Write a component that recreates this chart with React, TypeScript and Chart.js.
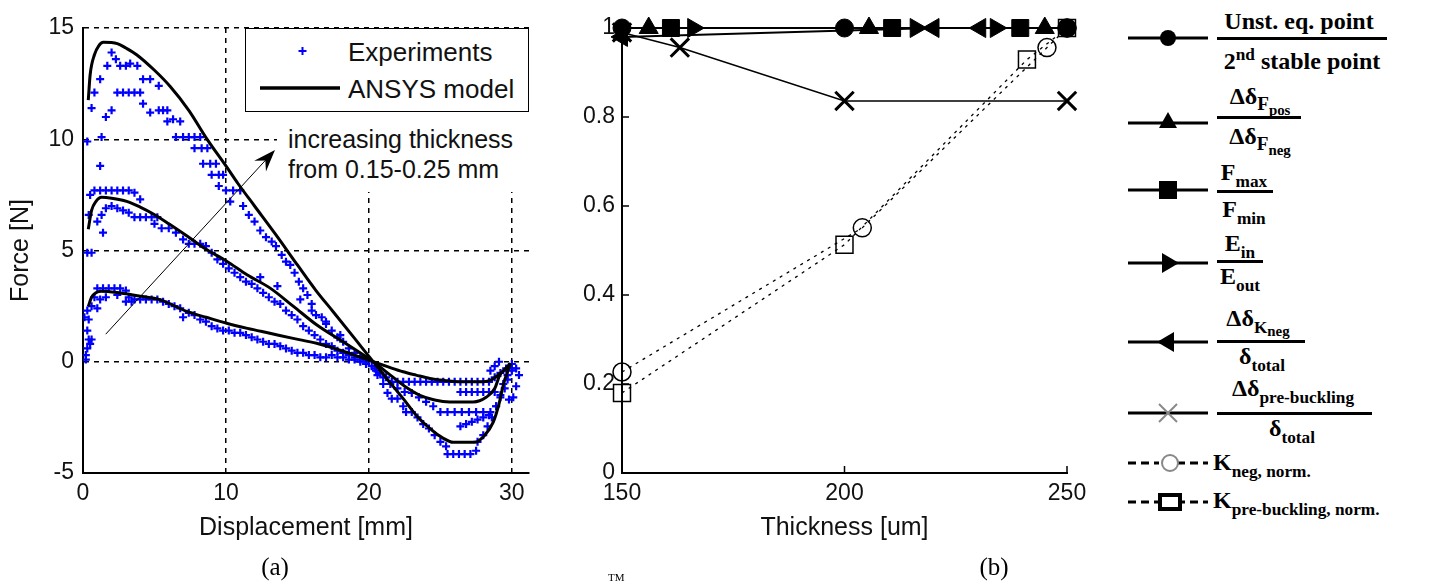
import React, { useEffect, useRef } from 'react';
import { Chart, registerables } from 'chart.js';
Chart.register(...registerables);

// ---------------- (a) Force vs displacement ----------------
const dispTicks = [0, 10, 20, 30];
const forceTicks = [-5, 0, 5, 10, 15];

const ansysThickX = [0.37, 0.5, 0.8, 1.1, 1.42, 2.0, 2.4, 3.0, 3.75, 5.0, 6.1, 7.4, 8.65, 10.0, 10.85, 12.0, 13.5, 15.0, 16.3, 17.5, 19.0, 20.3, 21.3, 22.4, 23.3, 24.3, 25.1, 25.9, 27.4, 28.1, 28.7, 29.1, 29.4, 29.9];
const ansysThickY = [11.76, 12.9, 13.8, 14.2, 14.36, 14.35, 14.3, 14.1, 13.8, 13.1, 12.37, 11.3, 10.03, 8.8, 8.0, 7.0, 5.7, 4.35, 3.2, 2.25, 1.05, 0, -0.8, -1.66, -2.4, -3.02, -3.4, -3.62, -3.62, -3.3, -2.71, -1.9, -1.05, -0.08];

const ansysMidX = [0.37, 0.6, 0.9, 1.3, 2.0, 3.05, 4.0, 4.92, 6.0, 7.25, 8.5, 10.05, 11.5, 13.07, 14.7, 16.34, 18.3, 20.3, 21.5, 22.5, 23.57, 24.6, 25.66, 27.3, 28.2, 28.8, 29.16, 29.5, 29.9];
const ansysMidY = [5.96, 6.8, 7.2, 7.39, 7.35, 7.21, 6.95, 6.64, 6.2, 5.66, 5.1, 4.52, 3.9, 3.32, 2.5, 1.66, 0.85, 0, -0.6, -1.1, -1.51, -1.72, -1.81, -1.81, -1.6, -1.2, -0.6, -0.35, -0.08];

const ansysThinX = [0.37, 0.6, 0.9, 1.3, 2.59, 4.0, 5.38, 7.25, 8.6, 10.05, 11.5, 13.07, 14.7, 16.34, 18.3, 20.3, 21.3, 22.4, 23.3, 24.27, 25.3, 26.36, 28.0, 28.6, 29.16, 29.6, 29.9];
const ansysThinY = [2.49, 2.9, 3.1, 3.17, 3.09, 2.95, 2.79, 2.26, 2.0, 1.73, 1.5, 1.28, 1.05, 0.83, 0.45, 0, -0.22, -0.45, -0.6, -0.75, -0.84, -0.9, -0.9, -0.8, -0.53, -0.3, -0.08];

const expThick = [
  [0.3, 9.9], [0.6, 11.4], [0.8, 12.1], [1.2, 12.7], [1.2, 8.8], [1.3, 10.1], [1.6, 11.0], [1.7, 13.3], [2.0, 13.9], [2.0, 11.3],
  [2.3, 13.6], [2.6, 13.3], [3.0, 13.3], [3.3, 13.4], [3.8, 13.3], [2.4, 12.1], [2.8, 12.1], [3.2, 12.1], [3.6, 12.1], [4.0, 12.1],
  [4.2, 12.7], [4.7, 12.7], [4.2, 11.6], [4.7, 11.2], [5.3, 12.4], [5.3, 11.3], [5.6, 11.3], [5.9, 11.3], [5.9, 10.8], [6.3, 10.9],
  [6.8, 10.8], [6.5, 10.1], [7.0, 10.1], [7.4, 10.1], [7.8, 10.1], [8.2, 10.1], [7.8, 9.6], [8.3, 9.6], [8.7, 9.6], [8.4, 8.9],
  [8.9, 8.9], [9.3, 8.9], [9.0, 8.4], [9.5, 8.4], [9.8, 8.4], [9.5, 7.9], [10.0, 7.7], [10.5, 7.7], [11.0, 7.7], [10.3, 7.2],
  [11.2, 7.0], [11.6, 6.6], [12.0, 6.3], [12.4, 5.9], [12.8, 5.6], [13.2, 5.4], [13.5, 5.2], [13.9, 4.8], [14.2, 4.5], [14.5, 4.35],
  [14.8, 4.0], [15.1, 3.6], [15.4, 3.3], [15.7, 3.0], [16.0, 2.6], [16.3, 2.1], [16.7, 2.0], [17.0, 1.7], [17.4, 1.4], [17.8, 1.1],
  [18.2, 0.9], [18.6, 0.6], [19.0, 0.4], [19.4, 0.25], [19.8, 0.1], [20.2, -0.2], [20.6, -0.6], [21.0, -1.0], [21.3, -1.4], [21.6, -1.66],
  [22.0, -1.66], [22.4, -2.0], [22.6, -2.26], [23.0, -2.26], [23.4, -2.5], [23.8, -2.8], [24.2, -3.0], [24.6, -3.3], [25.0, -3.6], [25.4, -3.8],
  [25.5, -4.15], [25.9, -4.15], [26.3, -4.15], [26.7, -4.15], [27.1, -4.15], [27.5, -4.0], [27.6, -3.6], [28.0, -3.3], [28.3, -2.9], [28.6, -2.5],
  [28.9, -2.0], [29.2, -1.5], [29.4, -1.0], [29.7, -0.6], [30.0, -0.3],
];

const expMid = [
  [0.3, 4.9], [0.6, 4.9], [0.4, 6.6], [0.5, 7.5], [0.8, 7.7], [1.2, 7.7], [1.6, 7.7], [2.0, 7.7], [2.4, 7.7], [2.8, 7.7],
  [3.2, 7.7], [3.6, 7.6], [4.0, 7.3], [1.0, 6.3], [1.3, 6.6], [1.6, 6.9], [2.0, 7.0], [2.4, 6.9], [1.4, 5.8], [2.8, 6.8],
  [3.2, 6.7], [3.6, 6.5], [4.0, 6.5], [4.4, 6.5], [4.8, 6.5], [5.2, 6.5], [5.0, 6.2], [5.5, 6.0], [6.0, 6.0], [6.5, 5.8],
  [7.0, 5.5], [7.4, 5.3], [7.8, 5.3], [8.2, 5.3], [8.6, 5.2], [9.0, 4.9], [9.4, 4.6], [9.8, 4.4], [10.2, 4.2], [10.6, 4.0],
  [11.0, 3.8], [11.4, 3.6], [11.8, 3.5], [12.2, 3.3], [12.6, 3.1], [12.4, 3.8], [13.0, 2.9], [13.4, 2.7], [13.8, 2.6], [13.6, 3.4],
  [14.2, 2.3], [14.6, 2.1], [15.0, 1.9], [15.2, 2.8], [15.4, 1.6], [15.8, 1.4], [16.0, 2.3], [16.2, 1.2], [16.6, 1.0], [17.0, 0.8],
  [17.0, 1.8], [17.4, 0.7], [17.8, 0.5], [18.0, 1.2], [18.2, 0.4], [18.6, 0.3], [19.0, 0.2], [19.4, 0.1], [19.8, 0.0], [20.5, -0.4],
  [21.0, -0.7], [21.5, -1.0], [22.0, -1.2], [22.5, -1.36], [23.0, -1.4], [23.5, -1.6], [24.0, -1.8], [24.5, -2.0], [25.0, -2.26], [25.5, -2.26],
  [26.0, -2.26], [26.5, -2.26], [27.0, -2.26], [27.5, -2.26], [28.0, -2.26], [28.5, -2.26], [26.4, -2.9], [26.8, -2.8], [27.2, -2.7], [27.6, -2.6],
  [28.0, -2.5], [28.4, -2.4], [28.9, -2.0], [29.2, -1.6], [29.5, -1.2], [29.7, -0.8], [30.0, -0.4], [26.4, -1.36], [26.8, -1.36], [27.2, -1.36],
  [27.6, -1.36], [28.0, -1.36], [28.4, -1.36], [28.8, -1.36],
];

const expThin = [
  [0.2, 0.3], [0.3, 0.6], [0.4, 1.0], [0.3, 1.4], [0.5, 0.8], [0.2, 0.1], [0.6, 1.0], [0.1, 2.0], [0.3, 2.3], [0.6, 2.5],
  [0.4, 1.9], [1.0, 2.4], [0.8, 2.9], [1.0, 3.3], [1.4, 3.3], [1.8, 3.3], [2.2, 3.3], [2.6, 3.3], [3.0, 3.2], [1.2, 2.8],
  [1.6, 2.9], [2.4, 3.0], [3.2, 2.9], [3.6, 2.8], [4.0, 2.8], [4.4, 2.8], [4.8, 2.8], [5.2, 2.8], [5.6, 2.7], [3.0, 2.7],
  [3.4, 2.7], [6.0, 2.6], [6.4, 2.5], [6.8, 2.4], [7.0, 2.0], [7.4, 2.2], [7.8, 2.1], [8.2, 1.9], [8.6, 1.8], [9.0, 1.6],
  [9.4, 1.5], [9.8, 1.4], [10.2, 1.4], [10.6, 1.3], [11.0, 1.3], [11.4, 1.2], [11.8, 1.1], [12.2, 1.0], [12.6, 0.9], [13.0, 0.8],
  [13.4, 0.8], [13.8, 0.7], [14.2, 0.6], [14.6, 0.5], [15.0, 0.4], [15.4, 0.4], [15.8, 0.3], [16.2, 0.3], [16.6, 0.2], [17.0, 0.2],
  [17.4, 0.3], [17.8, 0.2], [18.2, 0.2], [18.6, 0.1], [19.0, 0.1], [19.4, 0.0], [19.8, -0.1], [20.4, -0.3], [20.8, -0.5], [21.2, -0.7],
  [21.6, -0.9], [22.0, -0.9], [22.4, -0.9], [22.8, -0.9], [23.2, -0.9], [23.6, -0.9], [24.0, -0.9], [24.4, -0.9], [24.8, -0.9], [25.2, -0.9],
  [25.6, -0.9], [26.0, -0.9], [26.4, -0.9], [26.8, -0.9], [27.2, -0.9], [27.6, -0.9], [28.0, -0.9], [28.4, -0.9], [28.8, -0.7], [29.2, -0.5],
  [29.6, -0.3], [30.0, -0.1], [30.3, -0.3], [30.5, -0.6], [30.3, -1.1], [29.8, -1.7], [30.1, -1.6], [28.5, -0.4], [28.8, -0.2], [29.1, 0.0],
];

const arrowTail = [1.59, 1.24];
const arrowTip = [13.43, 9.52];

// ---------------- (b) Ratios vs thickness ----------------
const thicknessTicks = [150, 200, 250];
const ratioTicks = [0, 0.2, 0.4, 0.6, 0.8, 1];

const unstEqX = [150, 200, 250];
const unstEqY = [1, 1, 1];
const dFposX = [156, 205.5, 245];
const dFposY = [1, 1, 1];
const fmaxX = [161, 210.7, 239.5];
const fmaxY = [1, 1, 1];
const einX = [166, 216, 234];
const einY = [1, 1, 1];
const dKnegX = [150, 220, 230.5];
const dKnegY = [0.98, 1, 1];
const dPreBuckX = [150, 163, 200, 250];
const dPreBuckY = [0.99, 0.956, 0.836, 0.836];
const kNegNormX = [150, 204, 245.5, 250];
const kNegNormY = [0.227, 0.551, 0.956, 1];
const kPreBuckNormX = [150, 200, 241, 250];
const kPreBuckNormY = [0.18, 0.513, 0.929, 1];

const SANS = "'Liberation Sans', Arial, Helvetica, sans-serif";
const SERIF = "'Liberation Serif', 'Times New Roman', serif";
const INK = '#111';

const pts = (xs: number[], ys: number[]) => xs.map((x, i) => ({ x, y: ys[i] }));
const pairPts = (arr: number[][]) => arr.map(([x, y]) => ({ x, y }));

const arrowPlugin = {
  id: 'arrowA',
  afterDatasetsDraw(chart: any) {
    const { ctx, scales } = chart;
    const x0 = scales.x.getPixelForValue(arrowTail[0]);
    const y0 = scales.y.getPixelForValue(arrowTail[1]);
    const x1 = scales.x.getPixelForValue(arrowTip[0]);
    const y1 = scales.y.getPixelForValue(arrowTip[1]);
    const a = Math.atan2(y1 - y0, x1 - x0);
    const c = Math.cos(a), s = Math.sin(a);
    const L = 22, W = 8;
    ctx.save();
    ctx.strokeStyle = '#000';
    ctx.lineWidth = 1;
    ctx.beginPath();
    ctx.moveTo(x0, y0);
    ctx.lineTo(x1 - c * L * 0.6, y1 - s * L * 0.6);
    ctx.stroke();
    ctx.fillStyle = '#000';
    ctx.beginPath();
    ctx.moveTo(x1, y1);
    ctx.lineTo(x1 - c * L - s * W, y1 - s * L + c * W);
    ctx.lineTo(x1 - c * L * 0.65, y1 - s * L * 0.65);
    ctx.lineTo(x1 - c * L + s * W, y1 - s * L - c * W);
    ctx.closePath();
    ctx.fill();
    ctx.restore();
  },
};

const inwardTicksPlugin = {
  id: 'inwardTicks',
  afterDraw(chart: any) {
    const { ctx, chartArea, scales } = chart;
    ctx.save();
    ctx.strokeStyle = '#000';
    ctx.lineWidth = 1.5;
    ctx.beginPath();
    thicknessTicks.forEach((v) => {
      const px = scales.x.getPixelForValue(v);
      ctx.moveTo(px, chartArea.bottom);
      ctx.lineTo(px, chartArea.bottom - 7);
    });
    ratioTicks.forEach((v) => {
      const py = scales.y.getPixelForValue(v);
      ctx.moveTo(chartArea.left, py);
      ctx.lineTo(chartArea.left + 7, py);
    });
    ctx.stroke();
    ctx.restore();
  },
};

function ForceChart() {
  const ref = useRef<HTMLCanvasElement>(null);
  useEffect(() => {
    const curve = (label: string, xs: number[], ys: number[]) => ({
      type: 'line', label, data: pts(xs, ys), borderColor: '#000', borderWidth: 3, pointRadius: 0,
      cubicInterpolationMode: 'monotone', fill: false,
    });
    const exp = (label: string, arr: number[][]) => ({
      type: 'scatter', label, data: pairPts(arr), showLine: false, pointStyle: 'cross', pointRadius: 4,
      pointBorderWidth: 2.2, borderColor: '#0000ff', pointBorderColor: '#0000ff', backgroundColor: '#0000ff',
    });
    const chart = new Chart(ref.current as HTMLCanvasElement, {
      type: 'line',
      data: {
        datasets: [
          curve('ANSYS model', ansysThickX, ansysThickY),
          curve('ANSYS model (mid)', ansysMidX, ansysMidY),
          curve('ANSYS model (thin)', ansysThinX, ansysThinY),
          exp('Experiments', expThick),
          exp('Experiments (mid)', expMid),
          exp('Experiments (thin)', expThin),
        ] as any,
      },
      options: {
        responsive: false,
        animation: false,
        layout: { padding: { left: 0, top: 28, right: 11, bottom: 38 } },
        plugins: { legend: { display: false }, tooltip: { enabled: false } },
        scales: {
          x: {
            type: 'linear', min: 0, max: 31.2,
            afterBuildTicks: (s: any) => { s.ticks = dispTicks.map((v) => ({ value: v })); },
            afterFit: (s: any) => { s.height = 70; },
            grid: { color: '#000', lineWidth: 1.5, drawTicks: false },
            border: { display: true, color: '#000', width: 2, dash: [5, 5] },
            ticks: { padding: 7, color: INK, font: { family: SANS, size: 23 }, maxRotation: 0, autoSkip: false },
            title: { display: true, text: 'Displacement [mm]', color: INK, font: { family: SANS, size: 25 }, padding: 0 },
          },
          y: {
            type: 'linear', min: -5, max: 15,
            afterBuildTicks: (s: any) => { s.ticks = forceTicks.map((v) => ({ value: v })); },
            afterFit: (s: any) => { s.width = 83; },
            grid: { color: '#000', lineWidth: 1.5, drawTicks: false },
            border: { display: true, color: '#000', width: 2, dash: [5, 5] },
            ticks: { padding: 9, color: INK, font: { family: SANS, size: 23 }, autoSkip: false },
            title: { display: true, text: 'Force [N]', color: INK, font: { family: SANS, size: 25 }, padding: { top: 6, bottom: 0 } },
          },
        },
      } as any,
      plugins: [arrowPlugin],
    });
    return () => chart.destroy();
  }, []);
  return <canvas ref={ref} width={540} height={581} style={{ position: 'absolute', left: 0, top: 0 }} />;
}

function RatioChart() {
  const ref = useRef<HTMLCanvasElement>(null);
  useEffect(() => {
    const filled = (label: string, xs: number[], ys: number[], style: string, r: number, rot = 0) => ({
      label, data: pts(xs, ys), borderColor: '#000', borderWidth: 2, pointStyle: style, pointRadius: r,
      pointRotation: rot, pointBackgroundColor: '#000', pointBorderColor: '#000', pointBorderWidth: 1, clip: false,
    });
    const open = (label: string, xs: number[], ys: number[], style: string, r: number) => ({
      label, data: pts(xs, ys), borderColor: '#000', borderWidth: 1.3, borderDash: [3, 5], pointStyle: style,
      pointRadius: r, pointBackgroundColor: 'rgba(0,0,0,0)', pointBorderColor: '#000', pointBorderWidth: 1.5, clip: false,
    });
    const chart = new Chart(ref.current as HTMLCanvasElement, {
      type: 'line',
      data: {
        datasets: [
          filled('Unst. eq. point / 2nd stable point', unstEqX, unstEqY, 'circle', 9),
          filled('ΔδFpos / ΔδFneg', dFposX, dFposY, 'triangle', 11),
          filled('Fmax / Fmin', fmaxX, fmaxY, 'rect', 12),
          filled('Ein / Eout', einX, einY, 'triangle', 11, 90),
          filled('ΔδKneg / δtotal', dKnegX, dKnegY, 'triangle', 11, 270),
          {
            label: 'Δδpre-buckling / δtotal', data: pts(dPreBuckX, dPreBuckY), borderColor: '#000', borderWidth: 1.5,
            pointStyle: 'crossRot', pointRadius: 13, pointBorderColor: '#000', pointBorderWidth: 3, clip: false,
          },
          open('Kneg, norm.', kNegNormX, kNegNormY, 'circle', 9),
          open('Kpre-buckling, norm.', kPreBuckNormX, kPreBuckNormY, 'rect', 12),
        ] as any,
      },
      options: {
        responsive: false,
        animation: false,
        layout: { padding: { left: 0, top: 28, right: 33, bottom: 38 } },
        plugins: { legend: { display: false }, tooltip: { enabled: false } },
        scales: {
          x: {
            type: 'linear', min: 150, max: 250,
            afterBuildTicks: (s: any) => { s.ticks = thicknessTicks.map((v) => ({ value: v })); },
            afterFit: (s: any) => { s.height = 70; },
            grid: { display: false, drawTicks: false },
            border: { display: true, color: '#000', width: 2 },
            ticks: { padding: 7, color: INK, font: { family: SANS, size: 23 }, maxRotation: 0, autoSkip: false },
            title: { display: true, text: 'Thickness [um]', color: INK, font: { family: SANS, size: 25 }, padding: 0 },
          },
          y: {
            type: 'linear', min: 0, max: 1,
            afterBuildTicks: (s: any) => { s.ticks = ratioTicks.map((v) => ({ value: v })); },
            afterFit: (s: any) => { s.width = 82; },
            grid: { display: false, drawTicks: false },
            border: { display: true, color: '#000', width: 2 },
            ticks: { padding: 7, color: INK, font: { family: SANS, size: 23 }, autoSkip: false, callback: (v: any) => String(v) },
          },
        },
      } as any,
      plugins: [inwardTicksPlugin],
    });
    return () => chart.destroy();
  }, []);
  return <canvas ref={ref} width={560} height={581} style={{ position: 'absolute', left: 540, top: 0 }} />;
}

const sub = (t: string, size = '0.72em', top = '0.38em') => (
  <span style={{ fontSize: size, position: 'relative', top }}>{t}</span>
);

function Txt({ x, y, children, anchor = 'center', size = 24 }: any) {
  return (
    <div
      style={{
        position: 'absolute', left: x, top: y, whiteSpace: 'nowrap', lineHeight: 1,
        transform: anchor === 'center' ? 'translate(-50%, -50%)' : 'translate(0, -50%)',
        fontFamily: SERIF, fontWeight: 700, fontSize: size, color: '#000',
      }}
    >
      {children}
    </div>
  );
}

function Bar({ x0, x1, y }: any) {
  return <div style={{ position: 'absolute', left: x0, top: y - 1.5, width: x1 - x0, height: 3, background: '#000' }} />;
}

function RatioLegend() {
  const lx0 = 18, lx1 = 98, mx = 58;
  const rows = [38, 123, 190, 263, 342, 413, 463, 502];
  return (
    <>
      <svg style={{ position: 'absolute', left: 1110, top: 0 }} width={110} height={540}>
        {rows.slice(0, 6).map((y, i) => (
          <line key={i} x1={lx0} x2={lx1} y1={y} y2={y} stroke="#000" strokeWidth={3} />
        ))}
        {rows.slice(6).map((y, i) => (
          <g key={'d' + i}>
            <line x1={lx0} x2={mx - 9} y1={y} y2={y} stroke="#000" strokeWidth={3} strokeDasharray="8 5" />
            <line x1={mx + 9} x2={lx1} y1={y} y2={y} stroke="#000" strokeWidth={3} strokeDasharray="8 5" />
          </g>
        ))}
        <circle cx={mx} cy={rows[0]} r={8} fill="#000" />
        <polygon points={`${mx},${rows[1] - 11} ${mx - 9},${rows[1] + 5} ${mx + 9},${rows[1] + 5}`} fill="#000" />
        <rect x={mx - 9} y={rows[2] - 9} width={18} height={18} fill="#000" />
        <polygon points={`${mx + 11},${rows[3]} ${mx - 6},${rows[3] - 10} ${mx - 6},${rows[3] + 10}`} fill="#000" />
        <polygon points={`${mx - 11},${rows[4]} ${mx + 6},${rows[4] - 10} ${mx + 6},${rows[4] + 10}`} fill="#000" />
        <g stroke="#888" strokeWidth={2}>
          <line x1={mx - 9} y1={rows[5] - 9} x2={mx + 9} y2={rows[5] + 9} />
          <line x1={mx - 9} y1={rows[5] + 9} x2={mx + 9} y2={rows[5] - 9} />
        </g>
        <circle cx={mx + 2} cy={rows[6]} r={8} fill="#fff" stroke="#888" strokeWidth={2} />
        <rect x={mx - 8} y={rows[7] - 7} width={20} height={14} fill="#fff" stroke="#000" strokeWidth={4} />
      </svg>

      <Txt x={1299} y={21}>Unst. eq. point</Txt>
      <Bar x0={1217} x1={1387} y={38} />
      <Txt x={1302} y={61}>2<span style={{ fontSize: '0.72em', position: 'relative', top: '-0.5em' }}>nd</span> stable point</Txt>

      <Txt x={1260} y={96}>Δδ{sub('F', '0.8em', '0.3em')}{sub('pos', '0.62em', '0.75em')}</Txt>
      <Bar x0={1217} x1={1301} y={117} />
      <Txt x={1260} y={136}>Δδ{sub('F', '0.8em', '0.3em')}{sub('neg', '0.62em', '0.75em')}</Txt>

      <Txt x={1244} y={172}>F{sub('max')}</Txt>
      <Bar x0={1217} x1={1273} y={191} />
      <Txt x={1244} y={209}>F{sub('min')}</Txt>

      <Txt x={1240} y={243}>E{sub('in')}</Txt>
      <Bar x0={1217} x1={1263} y={261} />
      <Txt x={1240} y={276}>E{sub('out')}</Txt>

      <Txt x={1258} y={318}>Δδ{sub('K')}{sub('neg', '0.62em', '0.65em')}</Txt>
      <Bar x0={1217} x1={1305} y={341} />
      <Txt x={1262} y={356}>δ{sub('total')}</Txt>

      <Txt x={1293} y={388}>Δδ{sub('pre-buckling')}</Txt>
      <Bar x0={1217} x1={1372} y={413} />
      <Txt x={1292} y={428}>δ{sub('total')}</Txt>

      <Txt x={1213} y={462} anchor="start">K{sub('neg, norm.')}</Txt>
      <Txt x={1213} y={500} anchor="start">K{sub('pre-buckling, norm.')}</Txt>
    </>
  );
}

function ForceOverlay() {
  return (
    <>
      <div style={{ position: 'absolute', left: 277, top: 112, width: 252, height: 80, background: '#fff' }} />
      <div style={{ position: 'absolute', left: 288, top: 139, transform: 'translateY(-50%)', fontFamily: SANS, fontSize: 25, lineHeight: 1, color: INK, whiteSpace: 'nowrap' }}>
        increasing thickness
      </div>
      <div style={{ position: 'absolute', left: 288, top: 169, transform: 'translateY(-50%)', fontFamily: SANS, fontSize: 25, lineHeight: 1, color: INK, whiteSpace: 'nowrap' }}>
        from 0.15-0.25 mm
      </div>
      <div style={{ position: 'absolute', left: 245, top: 28, width: 284, height: 84, boxSizing: 'border-box', border: '1.5px solid #000', background: '#fff' }}>
        <svg style={{ position: 'absolute', left: 0, top: 0 }} width={100} height={82}>
          <g stroke="#0000ff" strokeWidth={2}>
            <line x1={52.5} x2={60.5} y1={22} y2={22} />
            <line x1={56.5} x2={56.5} y1={18} y2={26} />
          </g>
          <line x1={14} x2={94} y1={59} y2={59} stroke="#000" strokeWidth={3.5} />
        </svg>
        <div style={{ position: 'absolute', left: 102, top: 23, transform: 'translateY(-50%)', fontFamily: SANS, fontSize: 26, lineHeight: 1, color: INK, whiteSpace: 'nowrap' }}>Experiments</div>
        <div style={{ position: 'absolute', left: 102, top: 60, transform: 'translateY(-50%)', fontFamily: SANS, fontSize: 26, lineHeight: 1, color: INK, whiteSpace: 'nowrap' }}>ANSYS model</div>
      </div>
    </>
  );
}

export default function App() {
  return (
    <div style={{ position: 'fixed', left: 0, top: 0, width: 1432, height: 581, background: '#fff', overflow: 'hidden' }}>
      <ForceChart />
      <ForceOverlay />
      <RatioChart />
      <RatioLegend />
      <div style={{ position: 'absolute', left: 275, top: 566, transform: 'translate(-50%, -50%)', fontFamily: SERIF, fontSize: 25, lineHeight: 1 }}>(a)</div>
      <div style={{ position: 'absolute', left: 994, top: 566, transform: 'translate(-50%, -50%)', fontFamily: SERIF, fontSize: 25, lineHeight: 1 }}>(b)</div>
      <div style={{ position: 'absolute', left: 608, top: 572, fontFamily: SERIF, fontSize: 11, lineHeight: 1 }}>TM</div>
    </div>
  );
}
